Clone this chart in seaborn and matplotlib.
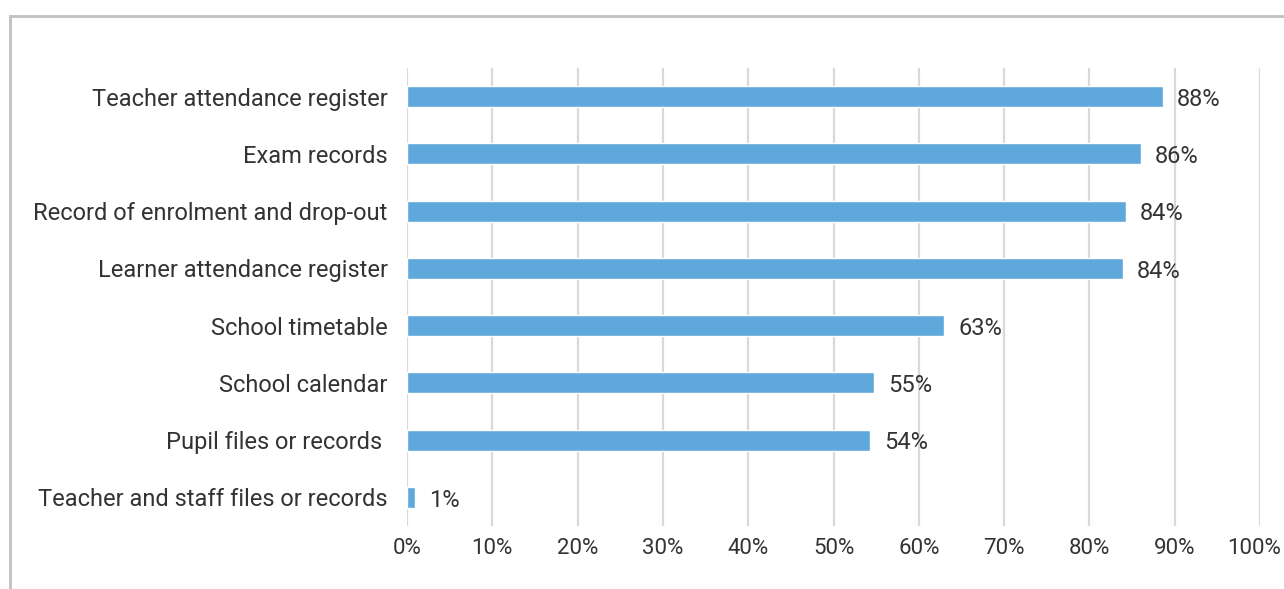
import matplotlib
matplotlib.use("Agg")
import matplotlib.pyplot as plt
import matplotlib.patches as mpatches
import matplotlib.transforms as mtransforms
from matplotlib.ticker import PercentFormatter
import pandas as pd
import seaborn as sns

# Data
categories = [
    "Teacher attendance register",
    "Exam records",
    "Record of enrolment and drop-out",
    "Learner attendance register",
    "School timetable",
    "School calendar",
    "Pupil files or records ",
    "Teacher and staff files or records",
]
values = [88.6, 86.0, 84.3, 83.9, 63.0, 54.8, 54.3, 0.9]
value_labels = ["88%", "86%", "84%", "84%", "63%", "55%", "54%", "1%"]
x_ticks = list(range(0, 101, 10))

BAR_COLOR = "#5fa8dc"
TEXT_COLOR = "#333333"
GRID_COLOR = "#d9d9d9"
FS = 17

df = pd.DataFrame({"category": categories, "value": values})

sns.set_theme(style="white")
plt.rcParams["font.family"] = ["Roboto", "DejaVu Sans"]

fig = plt.figure(figsize=(12.84, 5.89), dpi=100)
ax = fig.add_axes([407 / 1284, 1 - 526 / 589, (1260 - 407) / 1284, (526 - 68) / 589])

sns.barplot(data=df, x="value", y="category", orient="h", color=BAR_COLOR,
            width=0.37, saturation=1, ax=ax, zorder=3)

ax.set_xlim(0, 100)
ax.set_ylim(len(categories) - 0.5, -0.5)
ax.set_xticks(x_ticks)
ax.xaxis.set_major_formatter(PercentFormatter(100, decimals=0))
ax.grid(axis="x", color=GRID_COLOR, linewidth=1.6, zorder=0)
ax.grid(axis="y", visible=False)
for s in ax.spines.values():
    s.set_visible(False)
ax.set_xlabel("")
ax.set_ylabel("")
ax.tick_params(axis="both", length=0, colors=TEXT_COLOR)
ax.tick_params(axis="y", pad=14, labelsize=FS)
ax.tick_params(axis="x", pad=9, labelsize=16)

# nudge the last tick label ("100%") left so it stays inside the image
last = ax.get_xticklabels()[-1]
last.set_transform(last.get_transform() +
                   mtransforms.ScaledTranslation(-6 / 100, 0, fig.dpi_scale_trans))

for i, (v, lab) in enumerate(zip(values, value_labels)):
    ax.annotate(lab, xy=(v, i), xytext=(10, -2), textcoords="offset points",
                ha="left", va="center", fontsize=FS, color=TEXT_COLOR)

# outer frame (cropped on right and bottom in the reference)
frame = mpatches.Rectangle((10 / 1284, -0.2), 1.3, 1.2 - 16 / 589,
                           transform=fig.transFigure, fill=False,
                           edgecolor="#c0c0c0", linewidth=2, clip_on=False)
fig.patches.append(frame)

fig.savefig("out.png", dpi=100)
